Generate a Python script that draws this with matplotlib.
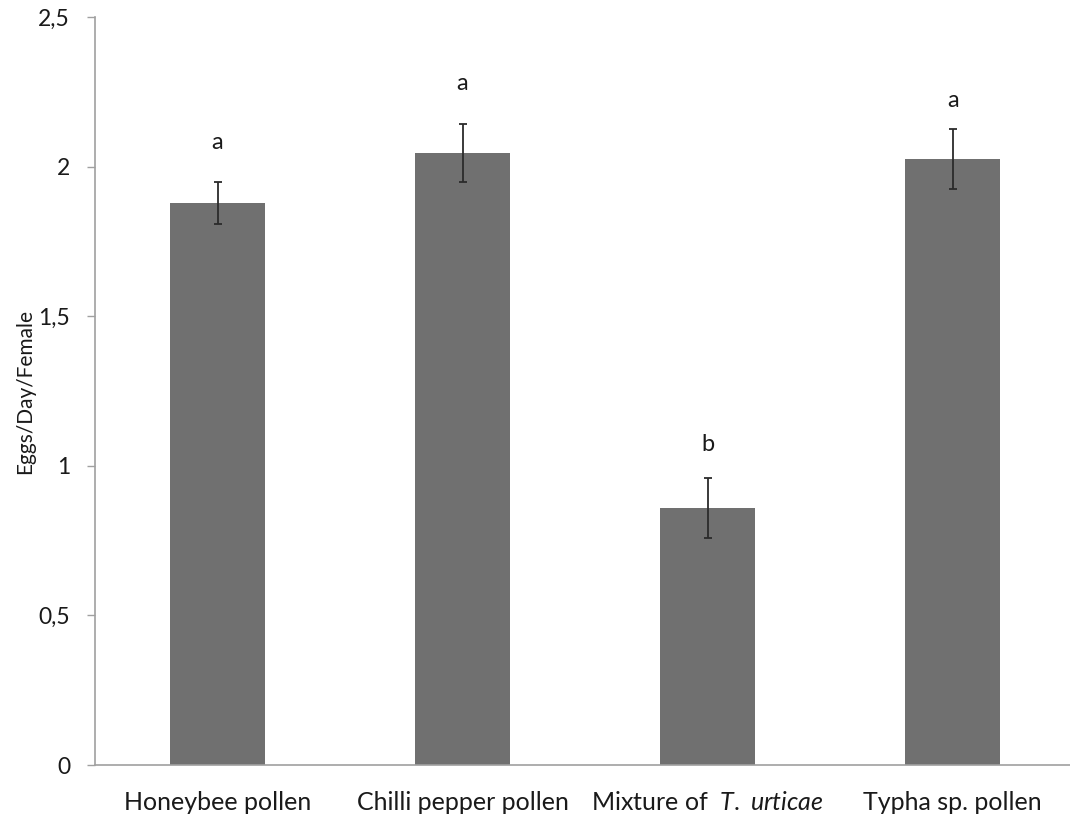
import matplotlib
matplotlib.use("Agg")
import matplotlib.pyplot as plt
from matplotlib.ticker import FuncFormatter

# data
categories = ["Honeybee pollen", "Chilli pepper pollen", "Mixture of  $\\it{T.\\ urticae}$", "Typha sp. pollen"]
means = [1.88, 2.045, 0.86, 2.025]
errors = [0.07, 0.097, 0.10, 0.10]
letters = ["a", "a", "b", "a"]
letter_y = [2.08, 2.28, 1.07, 2.22]

plt.rcParams['font.family'] = ['Lato', 'DejaVu Sans']
plt.rcParams['mathtext.fontset'] = 'custom'
plt.rcParams['mathtext.it'] = 'Lato:italic'
plt.rcParams['mathtext.rm'] = 'Lato'

fig = plt.figure(figsize=(10.7, 8.19), dpi=100)
ax = fig.add_axes([0.0888, 0.0659, 0.916, 0.9131])

x = range(len(categories))
ax.bar(x, means, width=0.39, color='#707070', zorder=2)
ax.errorbar(x, means, yerr=errors, fmt='none', ecolor='#2b2b2b', elinewidth=1.3,
            capsize=3, capthick=1.3, zorder=3)
for i, (l, ly) in enumerate(zip(letters, letter_y)):
    ax.text(i, ly, l, ha='center', va='center', fontsize=17, color='#1a1a1a')

ax.set_xlim(-0.5, 3.5)
ax.set_ylim(0, 2.5)
ax.set_yticks([0, 0.5, 1, 1.5, 2, 2.5])
ax.yaxis.set_major_formatter(FuncFormatter(lambda v, p: f"{v:g}".replace('.', ',')))
ax.set_xticks(list(x))
ax.set_xticklabels(categories)
ax.tick_params(axis='x', length=0, pad=19, labelsize=18, colors='#1a1a1a')
ax.tick_params(axis='y', length=6, width=1, color='#a0a0a0', pad=12, labelsize=16.5, labelcolor='#1a1a1a')

for s in ['top', 'right']:
    ax.spines[s].set_visible(False)
for s in ['left', 'bottom']:
    ax.spines[s].set_color('#a0a0a0')
    ax.spines[s].set_linewidth(1.2)

ax.set_ylabel("Eggs/Day/Female", fontsize=15, color='#1a1a1a')
ax.yaxis.set_label_coords(-0.061, 0.50)

fig.savefig("out.png", dpi=100)
